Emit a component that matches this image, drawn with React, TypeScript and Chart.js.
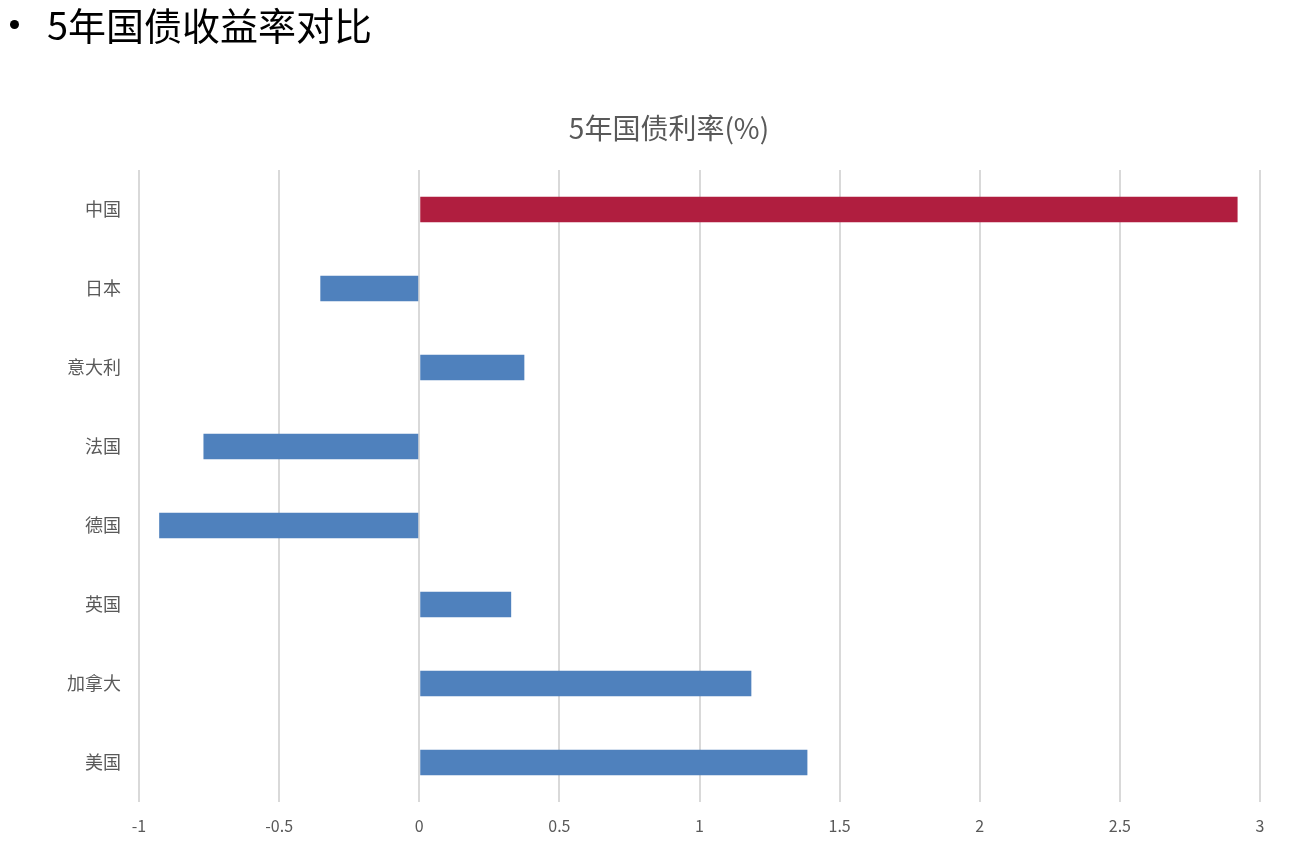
import React, { useEffect, useRef } from "react";
import { Chart, registerables } from "chart.js";

Chart.register(...registerables);

const categories = ["中国", "日本", "意大利", "法国", "德国", "英国", "加拿大", "美国"];
const yields = [2.92, -0.353, 0.375, -0.77, -0.928, 0.328, 1.185, 1.385];
const barColors = ["#B01E3F", "#4F81BD", "#4F81BD", "#4F81BD", "#4F81BD", "#4F81BD", "#4F81BD", "#4F81BD"];
const xTicks = [-1, -0.5, 0, 0.5, 1, 1.5, 2, 2.5, 3];

const FONT = "'Noto Sans CJK SC', 'Noto Sans', sans-serif";

export default function App() {
  const ref = useRef<HTMLCanvasElement | null>(null);

  useEffect(() => {
    if (!ref.current) return;
    const chart = new Chart(ref.current, {
      type: "bar",
      data: {
        labels: categories,
        datasets: [
          {
            data: yields,
            backgroundColor: barColors,
            borderWidth: 0,
            categoryPercentage: 1,
            barPercentage: 0.32,
          },
        ],
      },
      options: {
        indexAxis: "y",
        responsive: false,
        animation: false,
        layout: { padding: { left: 0, right: 38, top: 170, bottom: 0 } },
        plugins: {
          legend: { display: false },
          tooltip: { enabled: false },
          title: { display: false },
        },
        scales: {
          x: {
            type: "linear",
            min: -1,
            max: 3,
            afterBuildTicks: (scale: any) => {
              scale.ticks = xTicks.map((v) => ({ value: v }));
            },
            afterFit: (scale: any) => {
              scale.height = 56;
            },
            grid: { color: "#D9D9D9", lineWidth: 2, drawTicks: false },
            border: { display: false },
            ticks: {
              color: "#595959",
              font: { family: FONT, size: 16 },
              padding: 14,
              callback: (v: any) => String(v),
            },
          },
          y: {
            afterFit: (scale: any) => {
              scale.width = 139;
            },
            grid: { display: false, drawTicks: false },
            border: { display: false },
            ticks: {
              color: "#595959",
              font: { family: FONT, size: 18 },
              padding: 18,
            },
          },
        },
      },
    });
    return () => chart.destroy();
  }, []);

  return (
    <div style={{ position: "absolute", left: 0, top: 0, width: 1298, height: 858, background: "#fff", overflow: "hidden" }}>
      <canvas ref={ref} width={1298} height={858} style={{ position: "absolute", left: 0, top: 0, width: 1298, height: 858 }} />
      <div style={{ position: "absolute", left: 10, top: 20, width: 9, height: 9, borderRadius: "50%", background: "#000" }} />
      <div style={{ position: "absolute", left: 47, top: 0, height: 48, lineHeight: "48px", fontFamily: FONT, fontSize: 38, color: "#000", whiteSpace: "nowrap" }}>
        5年国债收益率对比
      </div>
      <div style={{ position: "absolute", left: 469, top: 107, width: 400, height: 40, lineHeight: "40px", textAlign: "center", fontFamily: FONT, fontSize: 28, color: "#595959", whiteSpace: "nowrap" }}>
        5年国债利率(%)
      </div>
    </div>
  );
}
